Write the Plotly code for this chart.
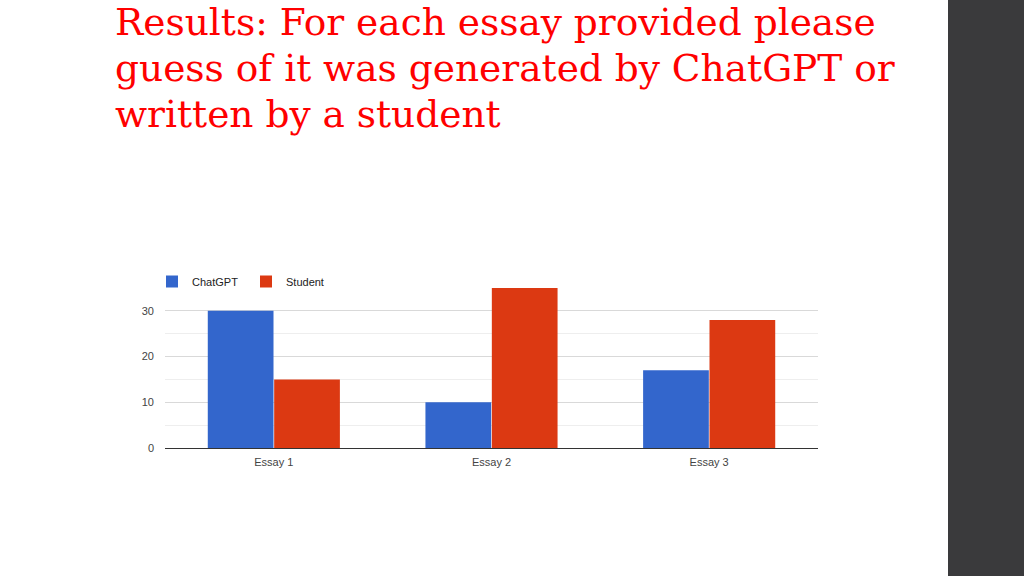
import plotly.graph_objects as go

categories = ["Essay 1", "Essay 2", "Essay 3"]
chatgpt = [30, 10, 17]
student = [15, 35, 28]
title_lines = [
    "Results: For each essay provided please",
    "guess of it was generated by ChatGPT or",
    "written by a student",
]
y_ticks = [0, 10, 20, 30]

W, H = 1024, 576      # reference frame (positions below are measured in it)
FIG_H = 582           # browser viewport height that gets photographed

fig = go.Figure()
fig.add_trace(go.Bar(x=categories, y=chatgpt, name="ChatGPT", marker_color="#3366cc",
                     marker_line_width=0))
fig.add_trace(go.Bar(x=categories, y=student, name="Student", marker_color="#dc3912",
                     marker_line_width=0))

fig.update_layout(
    width=W, height=FIG_H,
    margin=dict(l=0, r=0, t=0, b=0),
    paper_bgcolor="white", plot_bgcolor="white",
    barmode="group", bargap=0.39, bargroupgap=0.01,
    showlegend=True,
    legend=dict(orientation="h", x=152 / W, y=1 - 267 / H, xanchor="left", yanchor="top",
                font=dict(family="Arial, Liberation Sans", size=11, color="#222"),
                bgcolor="rgba(0,0,0,0)", entrywidth=49, entrywidthmode="pixels",
                tracegroupgap=0),
    xaxis=dict(domain=[165 / W, 818 / W], showgrid=False, showline=True,
               linecolor="#333", linewidth=1, ticks="", ticklabelstandoff=4,
               tickfont=dict(family="Arial, Liberation Sans", size=11, color="#444"),
               anchor="y"),
    yaxis=dict(domain=[1 - 448 / H, 1 - 288 / H], range=[0, 35], tickvals=y_ticks,
               showgrid=True, gridcolor="#d9d9d9", gridwidth=1, zeroline=False,
               showline=False, ticks="", ticklabelstandoff=10,
               tickfont=dict(family="Arial, Liberation Sans", size=11, color="#444"),
               minor=dict(dtick=5, tick0=5, showgrid=True, gridcolor="#eeeeee", gridwidth=1)),
)

# dark side panel
fig.add_shape(type="rect", xref="paper", yref="paper", x0=948 / W, x1=1, y0=0, y1=1,
              fillcolor="#3a3a3c", line_width=0, layer="below")

centers = [22, 68, 114]
for line, yc in zip(title_lines, centers):
    fig.add_annotation(text=line, xref="paper", yref="paper", x=113 / W, y=1 - yc / H,
                       xanchor="left", yanchor="middle", showarrow=False,
                       font=dict(family="DejaVu Serif", size=37.5, color="#ff0000"))

post = (
    "document.documentElement.style.margin='0';"
    "document.documentElement.style.overflow='hidden';"
    "document.body.style.margin='0';"
    "document.body.style.overflow='hidden';"
)
fig.write_html("out.html", post_script=post, config={"displayModeBar": False})
